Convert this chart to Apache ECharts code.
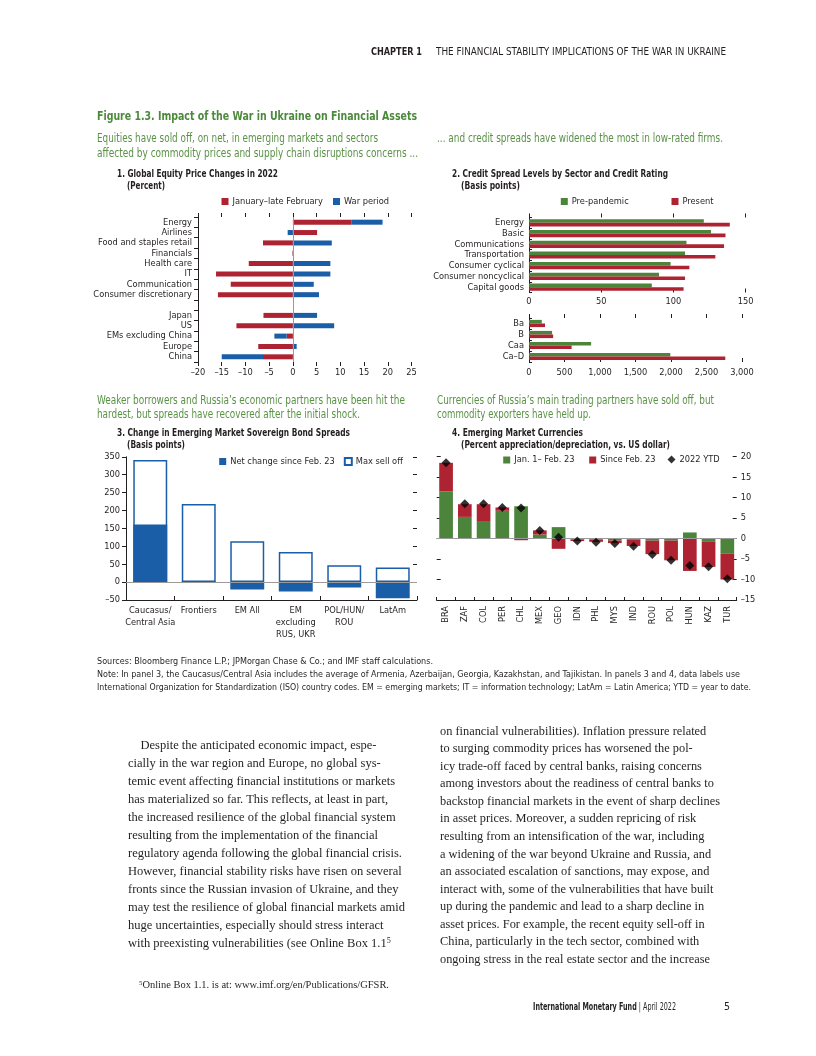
<!DOCTYPE html>
<html>
<head>
<meta charset="utf-8">
<title>Figure 1.3. Impact of the War in Ukraine on Financial Assets</title>
<script src="https://cdn.jsdelivr.net/npm/echarts@6.0.0/dist/echarts.min.js"></script>
<style>
html,body{margin:0;padding:0;background:#fff;}
#page{position:relative;width:816px;height:1056px;overflow:hidden;background:#fff;}
#chart{position:absolute;left:0;top:0;width:816px;height:1056px;}
.t{position:absolute;white-space:nowrap;transform-origin:0 50%;line-height:1.2;}
sup{font-size:65%;vertical-align:0.45em;line-height:0;}
</style>
</head>
<body>
<div id="page"><div id="chart"></div></div>
<script>
// ---------------- DATA ----------------
// Panel 1: Global equity price changes in 2022 (percent)
const eqCategories = ['Energy','Airlines','Food and staples retail','Financials','Health care','IT','Communication','Consumer discretionary','','Japan','US','EMs excluding China','Europe','China'];
const eqJanFeb = [12.3, 5.1, -6.3, -0.1, -9.3, -16.2, -13.1, -15.8, null, -6.2, -11.9, -1.3, -7.3, -6.3];
const eqWar    = [6.6, -1.1, 8.2, 0.2, 7.9, 7.9, 4.4, 5.5, null, 5.1, 8.7, -2.6, 0.8, -8.7];

// Panel 2: Credit spread levels (basis points)
const sectorCategories = ['Energy','Basic','Communications','Transportation','Consumer cyclical','Consumer noncyclical','Capital goods'];
const sectorPre = [121, 126, 109, 108, 98, 90, 85];
const sectorNow = [139, 136, 135, 129, 111, 108, 107];
const ratingCategories = ['Ba','B','Caa','Ca\u2013D'];
const ratingPre = [180, 325, 875, 1990];
const ratingNow = [225, 340, 600, 2765];

// Panel 3: Change in EM sovereign bond spreads (basis points)
const emCategories = ['Caucasus/\nCentral Asia','Frontiers','EM All','EM\nexcluding\nRUS, UKR','POL/HUN/\nROU','LatAm'];
const emMaxSellOff = [341, 218, 114, 84, 47, 41];
const emNetChange  = [161, 2, -21, -26, -15, -45];

// Panel 4: EM currencies (percent vs US dollar)
const fxCategories = ['BRA','ZAF','COL','PER','CHL','MEX','GEO','IDN','PHL','MYS','IND','ROU','POL','HUN','KAZ','TUR'];
const fxJanFeb   = [11.5, 5.3, 4.3, 6.8, 7.9, 1.0, 2.8, -0.3, -0.2, -0.5, -0.2, -0.5, -0.5, 1.5, -0.8, -3.7];
const fxSinceFeb = [7.0, 3.1, 4.1, 0.8, -0.4, 1.0, -2.5, -0.3, -0.6, -0.6, -1.6, -3.3, -4.8, -7.9, -6.1, -6.3];
const fxYTD      = [18.5, 8.5, 8.5, 7.6, 7.5, 2.0, 0.3, -0.6, -0.9, -1.2, -1.9, -3.9, -5.3, -6.6, -6.9, -9.8];

// ---------------- STYLE ----------------
const RED = '#ae2331', BLUE = '#1b5ea8', GREEN = '#4c843c', INK = '#231f20', ZERO = '#9a9a9a';
const FN = "'Liberation Sans Narrow','Arial Narrow','DejaVu Sans Condensed',sans-serif";
const SERIF = "'Liberation Serif','DejaVu Serif',serif";
const TGREEN = '#4b8a3b', SGREEN = '#5a9246';
const FS = 9.2;
const dash = v => v < 0 ? '\u2013' + Math.abs(v) : String(v);
const comma = v => v >= 1000 ? Math.floor(v / 1000) + ',' + String(v % 1000).padStart(3, '0') : String(v);

const lab = (o) => Object.assign({fontFamily: FN, fontSize: FS, color: INK}, o || {});
const blackLine = {show: true, onZero: false, lineStyle: {color: INK, width: 1}};
const tickStyle = {color: INK, width: 1};

function valAxis(grid, position, min, max, interval, o) {
  return Object.assign({
    type: 'value', gridIndex: grid, position, min, max, interval,
    splitLine: {show: false},
    axisLine: {show: false},
    axisTick: {show: true, inside: false, length: 4, lineStyle: tickStyle},
    axisLabel: {show: false}
  }, o || {});
}
function catAxis(grid, position, data, o) {
  return Object.assign({
    type: 'category', gridIndex: grid, position, data,
    axisLine: blackLine,
    axisTick: {show: true, inside: false, length: 4, lineStyle: tickStyle},
    axisLabel: lab({margin: 6, interval: 0}),
    splitLine: {show: false}
  }, o || {});
}
const zeroLine = (key) => ({silent: true, symbol: 'none', animation: false,
  label: {show: false}, lineStyle: {color: ZERO, width: 1, type: 'solid'}, data: [{[key]: 0}]});

const legendBase = (left, top, name, extra) => Object.assign({
  left, top, padding: 0, itemWidth: 7, itemHeight: 7, itemGap: 0, icon: 'rect',
  selectedMode: false, textStyle: lab({padding: [0, 0, 0, -1]}), data: [name]
}, extra || {});

const option = {
  animation: false,
  grid: [
    {left: 198, top: 217, width: 213.5, height: 145},     // panel 1
    {left: 529, top: 217.5, width: 216.7, height: 75},    // panel 2 sectors
    {left: 529, top: 318, width: 213, height: 44},        // panel 2 ratings
    {left: 126, top: 456.8, width: 291, height: 143.2},   // panel 3
    {left: 436.7, top: 456.7, width: 300, height: 143.3}  // panel 4
  ],
  legend: [
    legendBase(221.5, 197, 'January\u2013late February'),
    legendBase(333, 197, 'War period'),
    legendBase(560.8, 197, 'Pre-pandemic'),
    legendBase(671.5, 197, 'Present'),
    legendBase(219.2, 457, 'Net change since Feb. 23'),
    legendBase(343.8, 457, 'Max sell off'),
    legendBase(503.2, 455.5, 'Jan. 1\u2013 Feb. 23'),
    legendBase(589.2, 455.5, 'Since Feb. 23'),
    legendBase(667.5, 455, '2022 YTD', {icon: 'diamond', itemWidth: 8, itemHeight: 8})
  ],
  xAxis: [
    valAxis(0, 'bottom', -20, 25, 5, {axisLabel: lab({show: true, margin: 6, formatter: dash})}),
    valAxis(0, 'top', -20, 25, 5),
    valAxis(1, 'bottom', 0, 150, 50, {axisTick: {show: true, inside: true, length: 4, lineStyle: tickStyle},
      axisLabel: lab({show: true, margin: 5})}),
    valAxis(1, 'top', 0, 150, 50),
    valAxis(2, 'bottom', 0, 3000, 500, {axisTick: {show: true, inside: true, length: 4, lineStyle: tickStyle},
      axisLabel: lab({show: true, margin: 6, formatter: comma})}),
    valAxis(2, 'top', 0, 3000, 500),
    catAxis(3, 'bottom', emCategories, {axisTick: {show: true, inside: true, length: 4, lineStyle: tickStyle},
      axisLabel: lab({margin: 5, interval: 0, lineHeight: 11.7})}),
    catAxis(4, 'bottom', fxCategories, {axisTick: {show: true, inside: true, length: 3, lineStyle: tickStyle},
      axisLabel: lab({margin: 6, interval: 0, rotate: 90})})
  ],
  yAxis: [
    catAxis(0, 'left', eqCategories, {inverse: true, axisLabel: lab({margin: 6, interval: 0})}),
    catAxis(1, 'left', sectorCategories, {inverse: true, axisTick: {show: true, inside: true, length: 3, lineStyle: tickStyle},
      axisLabel: lab({margin: 5, interval: 0})}),
    catAxis(2, 'left', ratingCategories, {inverse: true, axisTick: {show: true, inside: true, length: 3, lineStyle: tickStyle},
      axisLabel: lab({margin: 5, interval: 0})}),
    valAxis(3, 'left', -50, 350, 50, {axisLine: blackLine, axisLabel: lab({show: true, margin: 6, formatter: dash})}),
    valAxis(3, 'right', -50, 350, 50, {axisTick: {show: true, inside: true, length: 4, lineStyle: tickStyle}}),
    valAxis(4, 'left', -15, 20, 5, {axisTick: {show: true, inside: true, length: 4, lineStyle: tickStyle}}),
    valAxis(4, 'right', -15, 20, 5, {axisTick: {show: true, inside: true, length: 4, lineStyle: tickStyle},
      axisLabel: lab({show: true, margin: 4, formatter: dash})})
  ],
  series: [
    // Panel 1
    {type: 'bar', name: 'January\u2013late February', xAxisIndex: 0, yAxisIndex: 0, stack: 'eq',
      data: eqJanFeb, barWidth: 5, itemStyle: {color: RED}, markLine: zeroLine('xAxis')},
    {type: 'bar', name: 'War period', xAxisIndex: 0, yAxisIndex: 0, stack: 'eq',
      data: eqWar, barWidth: 5, itemStyle: {color: BLUE}},
    // Panel 2 sectors
    {type: 'bar', name: 'Pre-pandemic', xAxisIndex: 2, yAxisIndex: 1, data: sectorPre,
      barWidth: 3.6, barGap: '0%', itemStyle: {color: GREEN}},
    {type: 'bar', name: 'Present', xAxisIndex: 2, yAxisIndex: 1, data: sectorNow,
      barWidth: 3.6, barGap: '0%', itemStyle: {color: RED}},
    // Panel 2 ratings
    {type: 'bar', name: 'Pre-pandemic', xAxisIndex: 4, yAxisIndex: 2, data: ratingPre,
      barWidth: 3.6, barGap: '0%', itemStyle: {color: GREEN}},
    {type: 'bar', name: 'Present', xAxisIndex: 4, yAxisIndex: 2, data: ratingNow,
      barWidth: 3.6, barGap: '0%', itemStyle: {color: RED}},
    // Panel 3
    {type: 'bar', name: 'Max sell off', xAxisIndex: 6, yAxisIndex: 3, data: emMaxSellOff,
      barWidth: '70%', itemStyle: {color: '#ffffff', borderColor: BLUE, borderWidth: 1.5},
      markLine: zeroLine('yAxis')},
    {type: 'bar', name: 'Net change since Feb. 23', xAxisIndex: 6, yAxisIndex: 3, data: emNetChange,
      barWidth: '70%', barGap: '-100%', itemStyle: {color: BLUE}},
    // Panel 4
    {type: 'bar', name: 'Jan. 1\u2013 Feb. 23', xAxisIndex: 7, yAxisIndex: 5, stack: 'fx',
      data: fxJanFeb, barWidth: '73%', itemStyle: {color: GREEN}, markLine: zeroLine('yAxis')},
    {type: 'bar', name: 'Since Feb. 23', xAxisIndex: 7, yAxisIndex: 5, stack: 'fx',
      data: fxSinceFeb, barWidth: '73%', itemStyle: {color: RED}},
    {type: 'scatter', name: '2022 YTD', xAxisIndex: 7, yAxisIndex: 5, data: fxYTD,
      symbol: 'diamond', symbolSize: 9, itemStyle: {color: '#000000'}, z: 5}
  ]
};

const chart = echarts.init(document.getElementById('chart'), null, {renderer: 'canvas'});
chart.setOption(option);

// ---------------- TEXT ----------------
const page = document.getElementById('page');
const texts = [
  {h: 'CHAPTER 1', x: 371, y: 52, s: 10, b: 1, c: INK, f: FN, fit: 51},
  {h: 'THE FINANCIAL STABILITY IMPLICATIONS OF THE WAR IN UKRAINE', x: 436, y: 52, s: 10, c: INK, f: FN, fit: 290},
  {h: 'Figure 1.3. Impact of the War in Ukraine on Financial Assets', x: 97, y: 116, s: 13, b: 1, c: TGREEN, f: FN, fit: 320},
  {h: 'Equities have sold off, on net, in emerging markets and sectors', x: 97, y: 139, s: 11.5, c: SGREEN, f: FN, fit: 281},
  {h: 'affected by commodity prices and supply chain disruptions concerns ...', x: 97, y: 154, s: 11.5, c: SGREEN, f: FN, fit: 321},
  {h: '... and credit spreads have widened the most in low-rated firms.', x: 437, y: 139, s: 11.5, c: SGREEN, f: FN, fit: 286},
  {h: '1. Global Equity Price Changes in 2022', x: 117, y: 173, s: 10.5, b: 1, c: INK, f: FN, fit: 161},
  {h: '(Percent)', x: 127, y: 185, s: 10.5, b: 1, c: INK, f: FN, fit: 38},
  {h: '2. Credit Spread Levels by Sector and Credit Rating', x: 452, y: 173, s: 10.5, b: 1, c: INK, f: FN, fit: 216},
  {h: '(Basis points)', x: 461, y: 185, s: 10.5, b: 1, c: INK, f: FN, fit: 59},
  {h: 'Weaker borrowers and Russia\u2019s economic partners have been hit the', x: 97, y: 401, s: 11.5, c: SGREEN, f: FN, fit: 308},
  {h: 'hardest, but spreads have recovered after the initial shock.', x: 97, y: 414.5, s: 11.5, c: SGREEN, f: FN, fit: 263},
  {h: '3. Change in Emerging Market Sovereign Bond Spreads', x: 117, y: 432, s: 10.5, b: 1, c: INK, f: FN, fit: 233},
  {h: '(Basis points)', x: 127, y: 444, s: 10.5, b: 1, c: INK, f: FN, fit: 58},
  {h: 'Currencies of Russia\u2019s main trading partners have sold off, but', x: 437, y: 401, s: 11.5, c: SGREEN, f: FN, fit: 277},
  {h: 'commodity exporters have held up.', x: 437, y: 414.5, s: 11.5, c: SGREEN, f: FN, fit: 154},
  {h: '4. Emerging Market Currencies', x: 452, y: 432, s: 10.5, b: 1, c: INK, f: FN, fit: 131},
  {h: '(Percent appreciation/depreciation, vs. US dollar)', x: 461, y: 444, s: 10.5, b: 1, c: INK, f: FN, fit: 209},
  {h: 'Sources: Bloomberg Finance L.P.; JPMorgan Chase &amp; Co.; and IMF staff calculations.', x: 97, y: 661, s: 9.5, c: INK, f: FN, fit: 336},
  {h: 'Note: In panel 3, the Caucasus/Central Asia includes the average of Armenia, Azerbaijan, Georgia, Kazakhstan, and Tajikistan. In panels 3 and 4, data labels use', x: 97, y: 674, s: 9.5, c: INK, f: FN, fit: 643},
  {h: 'International Organization for Standardization (ISO) country codes. EM = emerging markets; IT = information technology; LatAm = Latin America; YTD = year to date.', x: 97, y: 687, s: 9.5, c: INK, f: FN, fit: 654},
  {h: '<sup>5</sup>Online Box 1.1. is at: www.imf.org/en/Publications/GFSR.', x: 139, y: 985, s: 10.5, c: INK, f: SERIF, fit: 250},
  {h: '<b>International Monetary Fund</b> | April 2022', x: 533, y: 1006.5, s: 10.5, c: INK, f: FN, fit: 143},
  {h: '5', x: 724, y: 1006.5, s: 10.5, c: INK, f: FN}
];

const leftBody = [
  '\u2003Despite the anticipated economic impact, espe-',
  'cially in the war region and Europe, no global sys-',
  'temic event affecting financial institutions or markets',
  'has materialized so far. This reflects, at least in part,',
  'the increased resilience of the global financial system',
  'resulting from the implementation of the financial',
  'regulatory agenda following the global financial crisis.',
  'However, financial stability risks have risen on several',
  'fronts since the Russian invasion of Ukraine, and they',
  'may test the resilience of global financial markets amid',
  'huge uncertainties, especially should stress interact',
  'with preexisting vulnerabilities (see Online Box 1.1<sup>5</sup>'
];
const rightBody = [
  'on financial vulnerabilities). Inflation pressure related',
  'to surging commodity prices has worsened the pol-',
  'icy trade-off faced by central banks, raising concerns',
  'among investors about the readiness of central banks to',
  'backstop financial markets in the event of sharp declines',
  'in asset prices. Moreover, a sudden repricing of risk',
  'resulting from an intensification of the war, including',
  'a widening of the war beyond Ukraine and Russia, and',
  'an associated escalation of sanctions, may expose, and',
  'interact with, some of the vulnerabilities that have built',
  'up during the pandemic and lead to a sharp decline in',
  'asset prices. For example, the recent equity sell-off in',
  'China, particularly in the tech sector, combined with',
  'ongoing stress in the real estate sector and the increase'
];

function makeText(sp) {
  const d = document.createElement('div');
  d.className = 't';
  d.style.left = sp.x + 'px';
  d.style.top = (sp.y - sp.s * 0.6) + 'px';
  d.style.fontSize = sp.s + 'px';
  d.style.fontFamily = sp.f;
  d.style.fontWeight = sp.b ? 700 : 400;
  d.style.color = sp.c;
  d.innerHTML = sp.h;
  page.appendChild(d);
  return d;
}
const fitList = [];
texts.forEach(sp => { const d = makeText(sp); if (sp.fit) fitList.push([d, sp.fit]); });

function bodyBlock(lines, x, y0, step, refIndex, refWidth) {
  const els = lines.map((h, i) => makeText({h, x, y: y0 + i * step, s: 13, c: INK, f: SERIF}));
  return {els, ref: els[refIndex], refWidth};
}
const blocks = [
  bodyBlock(leftBody, 128, 745, 18, 9, 277),
  bodyBlock(rightBody, 440, 730.5, 17.55, 4, 280)
];

function applyFit() {
  fitList.forEach(([d, w]) => {
    d.style.transform = 'none';
    const cw = d.getBoundingClientRect().width;
    if (cw > 0) d.style.transform = 'scaleX(' + (w / cw) + ')';
  });
  blocks.forEach(b => {
    b.els.forEach(e => e.style.transform = 'none');
    const cw = b.ref.getBoundingClientRect().width;
    const k = b.refWidth / cw;
    b.els.forEach(e => e.style.transform = 'scaleX(' + k + ')');
  });
}
applyFit();
if (document.fonts && document.fonts.ready) document.fonts.ready.then(applyFit);
</script>
</body>
</html>
